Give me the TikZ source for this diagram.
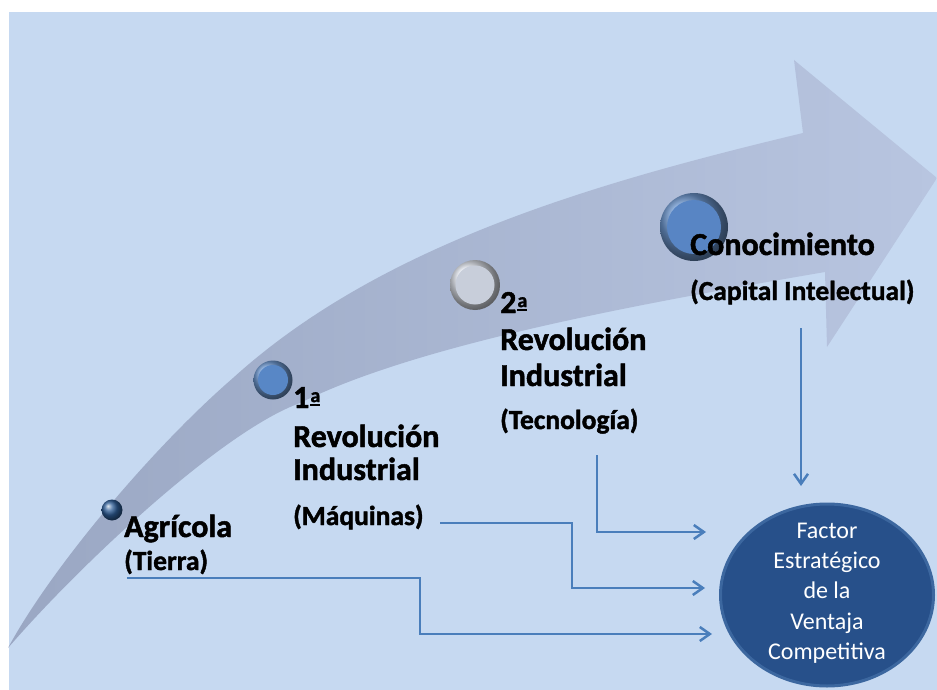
\documentclass[tikz,border=0pt]{standalone}
\usepackage{fontspec}
\setmainfont{Carlito}[BoldFont={Carlito Bold}, BoldFeatures={FakeBold=1.5}]
\usetikzlibrary{arrows.meta,shapes.geometric}
\definecolor{bgblue}{HTML}{C6D9F1}
\definecolor{arrowdark}{HTML}{9AA7C3}
\definecolor{arrowlight}{HTML}{B8C5E0}
\definecolor{linkblue}{HTML}{4A7EBB}
\definecolor{factorfill}{HTML}{27508A}
\definecolor{factorrim}{HTML}{3C679F}
% feminine ordinal: raised small a over a short rule
\newcommand\ordfem{\kern1pt\leavevmode\vbox{\hbox{\fontsize{20}{20}\selectfont a}\kern2.2pt\hrule height 2pt\kern1.6pt}}
\begin{document}
\begin{tikzpicture}[x=1pt,y=-1pt,
  hdr/.style={font=\fontsize{32}{34}\selectfont\bfseries, anchor=base west, inner sep=0pt},
  sub/.style={font=\fontsize{27.5}{30}\selectfont\bfseries, anchor=base west, inner sep=0pt},
  link/.style={draw=linkblue, line width=2.5pt,
    -{Straight Barb[length=10pt,width=14pt,line width=2.5pt]}},
  dot/.style={circle, inner sep=0pt, shading=ball},
]
% page and panel
\fill[white] (0,0) rectangle (937,690);
\fill[bgblue] (9,12) rectangle (937,690);
\useasboundingbox (0,0) rectangle (937,690);

% curved timeline arrow
\shade[left color=arrowdark, right color=arrowlight]
  (8,648) .. controls (50,570) and (150,450) .. (233,378)
          .. controls (383,242) and (603,181) .. (803,133)
  -- (794,60) -- (937,178) -- (827,347) -- (825,272)
  .. controls (650,302) and (420,343) .. (300,403)
  .. controls (220,432) and (75,570) .. (8,648)
  -- cycle;

% stage markers
\node[dot, ball color={rgb,255:red,45;green,92;blue,150}, minimum size=21pt] (agri) at (112,510) {};

\node[dot, ball color={rgb,255:red,112;green,155;blue,212}, minimum size=39pt] (rev1) at (273,380) {};
\fill[fill={rgb,255:red,88;green,135;blue,198}] (rev1.center) circle[radius=15pt];

\node[dot, ball color={rgb,255:red,226;green,230;blue,238}, minimum size=50pt] (rev2) at (475,285) {};
\fill[fill={rgb,255:red,200;green,206;blue,218}] (rev2.center) circle[radius=19.5pt];

\node[dot, ball color={rgb,255:red,110;green,152;blue,208}, minimum size=68pt] (cono) at (694,227) {};
\fill[fill={rgb,255:red,88;green,133;blue,196}] (cono.center) circle[radius=27pt];

% stage labels
\node[hdr] (agriT) at (124,537) {Agrícola};
\node[sub] (tierra) at (124,570) {(Tierra)};

\node[hdr] (r1a) at (293,408) {1\ordfem};
\node[hdr] (r1b) at (293,447) {Revolución};
\node[hdr] (r1c) at (293,480) {Industrial};
\node[sub] (maq) at (293,525) {(Máquinas)};

\node[hdr] (r2a) at (500,313) {2\ordfem};
\node[hdr] (r2b) at (500,350) {Revolución};
\node[hdr] (r2c) at (500,386) {Industrial};
\node[sub] (tec) at (500,429) {(Tecnología)};

\node[hdr] (conoT) at (690,255) {Conocimiento};
\node[sub] (capital) at (690,300) {(Capital Intelectual)};

% strategic factor
\node[ellipse, minimum width=213pt, minimum height=182pt, fill=factorfill,
      draw=factorrim, line width=3pt] (factor) at (827,595) {};
\node[text=white, align=center, inner sep=0pt,
      font=\fontsize{24}{30.3}\selectfont] (factorT) at (827,593)
  {Factor\\Estratégico\\de la\\Ventaja\\Competitiva};

% connectors
\coordinate (tA) at (127,578);
\coordinate (tE) at (712,634);
\coordinate (mA) at (440,523);
\coordinate (mE) at (705,588);
\coordinate (tcA) at (597,455);
\coordinate (tcE) at (706,532);
\coordinate (cA) at (801,328);
\coordinate (cE) at (801,486);

\draw[link] (tA) -- ++(293,0) |- (tE);
\draw[link] (mA) -- ++(132,0) |- (mE);
\draw[link] (tcA) |- (tcE);
\draw[link] (cA) -- (cE);
\end{tikzpicture}
\end{document}
